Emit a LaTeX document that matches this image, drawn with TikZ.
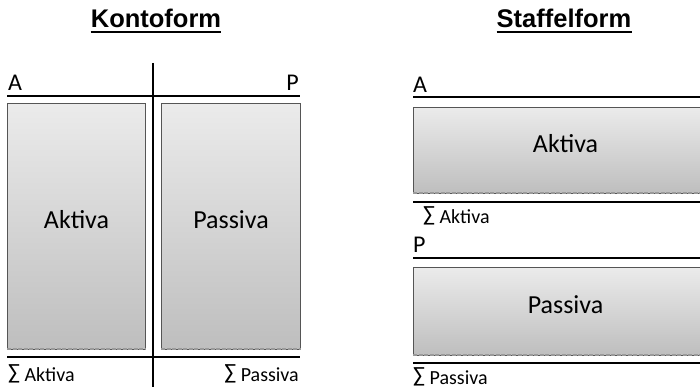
\documentclass[tikz,border=0pt]{standalone}
\usepackage{fontspec}
\setmainfont{Carlito}
\newfontfamily\titlefont{Liberation Sans}
\definecolor{boxtop}{HTML}{EBEBEB}
\definecolor{boxbot}{HTML}{BEBEBE}
\definecolor{boxedge}{HTML}{555555}
\definecolor{hatchgray}{HTML}{9A9A9A}
\newcommand{\boxtext}[1]{\raisebox{14pt}{#1}}
\newcommand{\sumsym}{\raisebox{1.5pt}{\fontsize{22}{22}\selectfont ∑}}
\begin{document}
\begin{tikzpicture}[x=1pt,y=-1pt,
  bal/.style={draw=boxedge, line width=1pt, top color=boxtop, bottom color=boxbot,
    anchor=north west, inner sep=0pt, font=\fontsize{26}{26}\selectfont},
  rulel/.style={line width=2pt, black},
  hatch/.style={draw=hatchgray, line width=2pt, dash pattern=on 4pt off 1.5pt},
  lab/.style={inner sep=0pt, font=\fontsize{24}{24}\selectfont},
  sumlab/.style={inner sep=0pt, font=\fontsize{20}{20}\selectfont},
  ttl/.style={inner sep=0pt, anchor=base, font=\titlefont\bfseries\fontsize{25.5}{25.5}\selectfont}]
\useasboundingbox (0,0) rectangle (700,390);
\clip (0,0) rectangle (700,390);

% titles
\node[ttl] (t1) at (156,28) {Kontoform};
\draw[line width=2pt] ([yshift=-4.5pt]t1.base west) -- ([yshift=-4.5pt]t1.base east);
\node[ttl] (t2) at (564,28) {Staffelform};
\draw[line width=2pt] ([yshift=-4.5pt]t2.base west) -- ([yshift=-4.5pt]t2.base east);

% Kontoform
\node[bal, minimum width=138pt, minimum height=246pt] (ka) at (7,103) {\boxtext{Aktiva}};
\node[bal, minimum width=139pt, minimum height=246pt] (kp) at (161,103) {\boxtext{Passiva}};
\draw[hatch] ([yshift=1.5pt]ka.south west) -- ([yshift=1.5pt]ka.south east);
\draw[hatch] ([yshift=1.5pt]kp.south west) -- ([yshift=1.5pt]kp.south east);
\draw[rulel] (153,63) -- (153,387);
\draw[rulel] (7,96) -- (300,96);
\draw[rulel] (7,357) -- (300,357);
\node[lab, anchor=base west] (kA) at (8,91) {A};
\node[lab, anchor=base east] (kP) at (299,91) {P};
\node[sumlab, anchor=base west] (kSA) at (8,381) {\sumsym\ Aktiva};
\node[sumlab, anchor=base east] (kSP) at (299,381) {\sumsym\ Passiva};

% Staffelform
\node[bal, minimum width=304pt, minimum height=86pt] (sa) at (413,107) {\boxtext{Aktiva}};
\node[bal, minimum width=304pt, minimum height=88pt] (sp) at (413,267) {\boxtext{Passiva}};
\draw[hatch] ([yshift=1.5pt]sa.south west) -- ([yshift=1.5pt]sa.south east);
\draw[hatch] ([yshift=1.5pt]sp.south west) -- ([yshift=1.5pt]sp.south east);
\draw[rulel] (413,97) -- (705,97);
\draw[rulel] (413,202) -- (705,202);
\draw[rulel] (413,258) -- (705,258);
\draw[rulel] (413,363) -- (705,363);
\node[lab, anchor=base west] (sA) at (413,93) {A};
\node[sumlab, anchor=base west] (sSA) at (423,223) {\sumsym\ Aktiva};
\node[lab, anchor=base west] (sP) at (413,252) {P};
\node[sumlab, anchor=base west] (sSP) at (413,384) {\sumsym\ Passiva};
\end{tikzpicture}
\end{document}
